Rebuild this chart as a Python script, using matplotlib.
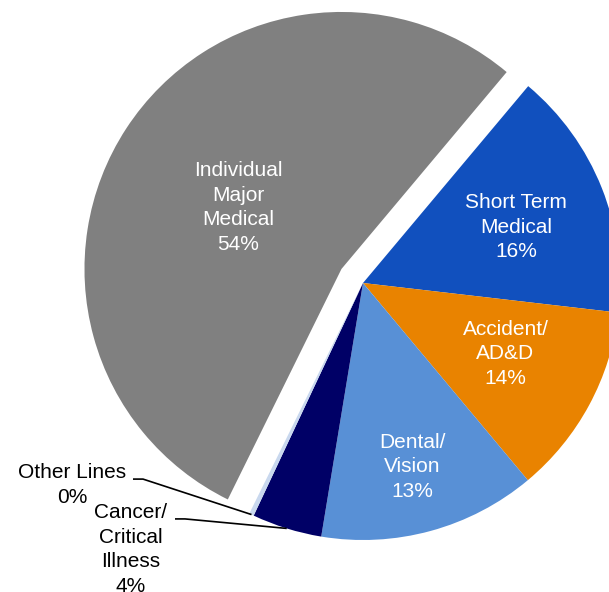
import numpy as np
import matplotlib
matplotlib.use("Agg")
import matplotlib.pyplot as plt

plt.rcParams["font.family"] = ["Liberation Sans", "DejaVu Sans"]

# Slice sizes (clockwise from the top of Short Term)
categories = ["Short Term\nMedical", "Accident/\nAD&D", "Dental/\nVision",
              "Cancer/\nCritical\nIllness", "Other Lines", "Individual\nMajor\nMedical"]
values = [15.75, 12.1, 13.7, 4.4, 0.3, 53.9]
pct_labels = ["16%", "14%", "13%", "4%", "0%", "54%"]
colors = ["#1150BE", "#E98300", "#5890D6", "#000066", "#C9D8EE", "#808080"]
explode = [0, 0, 0, 0, 0, 0.1]

PX = 257.0  # pixels per unit radius


def main():
    fig = plt.figure(figsize=(6.09, 5.92), dpi=100)
    ax = fig.add_axes([0, 0, 1, 1])

    wedges, _ = ax.pie(values, colors=colors, explode=explode,
                       startangle=50, counterclock=False,
                       wedgeprops=dict(linewidth=0))

    # labels inside the slices: radial fraction and a small vertical nudge (px)
    inside = {0: (0.64, -5), 1: (0.63, 6), 2: (0.73, -3), 5: (0.48, -6)}
    for i, (r, dy) in inside.items():
        w = wedges[i]
        mid = np.deg2rad((w.theta1 + w.theta2) / 2)
        cx, cy = w.center
        ax.text(cx + r * np.cos(mid), cy + r * np.sin(mid) + dy / PX,
                categories[i] + "\n" + pct_labels[i],
                ha="center", va="center", color="white",
                fontsize=15, linespacing=1.36)

    # outside labels with leader lines
    outside = {4: ((-1.132, -0.786), (-0.895, -0.763)),
               3: ((-0.903, -1.037), (-0.7315, -0.918))}
    for i, (txt_pos, start) in outside.items():
        w = wedges[i]
        mid = np.deg2rad((w.theta1 + w.theta2) / 2)
        ex, ey = np.cos(mid), np.sin(mid)
        ax.text(txt_pos[0], txt_pos[1], categories[i] + "\n" + pct_labels[i],
                ha="center", va="center", color="black",
                fontsize=15, linespacing=1.36)
        ax.plot([start[0], start[0] + 0.039, ex], [start[1], start[1], ey],
                color="black", linewidth=1.2, solid_capstyle="butt")

    ax.set_xlim(-363 / PX, (609 - 363) / PX)
    ax.set_ylim(-(592 - 283) / PX, 283 / PX)
    ax.set_aspect("auto")
    ax.axis("off")

    fig.savefig("out.png", dpi=100)


if __name__ == "__main__":
    main()
